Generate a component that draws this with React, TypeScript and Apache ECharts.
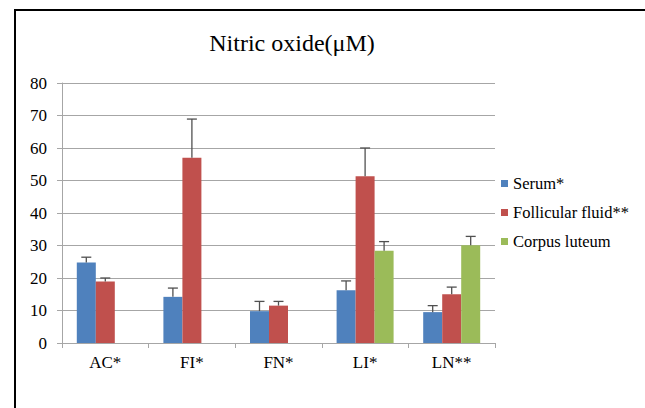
import React, { useEffect, useRef } from "react";
import * as echarts from "echarts";

const categories = ["AC*", "FI*", "FN*", "LI*", "LN**"];
const seriesNames = ["Serum*", "Follicular fluid**", "Corpus luteum"];
const serum = [24.8, 14.2, 9.8, 16.2, 9.5];
const follicularFluid = [18.9, 57.0, 11.5, 51.3, 15.0];
const corpusLuteum = [null, null, null, 28.4, 30.1];
// upper error (SD) for each bar
const serumErr = [1.6, 2.7, 3.0, 2.9, 2.0];
const follicularErr = [1.1, 11.9, 1.3, 8.7, 2.2];
const corpusErr = [null, null, null, 2.8, 2.7];
const yTicks = [0, 10, 20, 30, 40, 50, 60, 70, 80];

const colors = ["#4F81BD", "#C0504D", "#9BBB59"];
const FONT = "Liberation Serif";
const BAR_W = 19;

const values = [serum, follicularFluid, corpusLuteum];
const errors = [serumErr, follicularErr, corpusErr];

function errorSeries(idx: number) {
  const data = values[idx]
    .map((v, i) => (v == null || errors[idx][i] == null ? null : [i, v, v + (errors[idx][i] as number)]))
    .filter((d) => d !== null);
  return {
    type: "custom",
    name: seriesNames[idx] + " error",
    z: 5,
    silent: true,
    renderItem: (_params: any, api: any) => {
      const cat = api.value(0);
      const top = api.coord([cat, api.value(1)]);
      const hi = api.coord([cat, api.value(2)]);
      const x = top[0] + (idx - 1) * BAR_W;
      const style = { stroke: "#505050", lineWidth: 1.3 };
      return {
        type: "group",
        children: [
          { type: "line", shape: { x1: x, y1: top[1], x2: x, y2: hi[1] }, style },
          { type: "line", shape: { x1: x - 5, y1: hi[1], x2: x + 5, y2: hi[1] }, style },
        ],
      };
    },
    encode: { x: 0, y: [1, 2] },
    data,
  };
}

export default function App() {
  const ref = useRef<HTMLDivElement>(null);

  useEffect(() => {
    if (!ref.current) return;
    const chart = echarts.init(ref.current, null, { renderer: "svg" });
    chart.setOption({
      animation: false,
      backgroundColor: "#ffffff",
      color: colors,
      textStyle: { fontFamily: FONT },
      title: {
        text: "Nitric oxide(\u03bcM)",
        left: 287,
        top: 26,
        textAlign: "center",
        textStyle: { fontFamily: FONT, fontSize: 24, fontWeight: "normal", color: "#000" },
      },
      legend: {
        data: seriesNames,
        orient: "vertical",
        left: 496,
        top: 170,
        itemWidth: 7,
        itemHeight: 7,
        itemGap: 12,
        icon: "rect",
        textStyle: { fontFamily: FONT, fontSize: 16.5, color: "#000" },
      },
      grid: { left: 62, right: 150, top: 83, bottom: 65 },
      xAxis: {
        type: "category",
        data: categories,
        axisLine: { lineStyle: { color: "#a6a6a6", width: 1 } },
        axisTick: { show: true, length: 5, lineStyle: { color: "#a6a6a6" } },
        axisLabel: { fontFamily: FONT, fontSize: 17, color: "#000", margin: 11 },
      },
      yAxis: {
        type: "value",
        min: yTicks[0],
        max: yTicks[yTicks.length - 1],
        interval: 10,
        axisLine: { show: true, lineStyle: { color: "#a6a6a6", width: 1 } },
        axisTick: { show: true, length: 5, lineStyle: { color: "#a6a6a6" } },
        axisLabel: { fontFamily: FONT, fontSize: 17, color: "#000", margin: 15 },
        splitLine: { lineStyle: { color: "#a6a6a6", width: 1 } },
      },
      graphic: [
        { type: "line", shape: { x1: 14, y1: 10, x2: 645, y2: 10 }, style: { stroke: "#000", lineWidth: 2 } },
        { type: "line", shape: { x1: 15, y1: 9, x2: 15, y2: 408 }, style: { stroke: "#000", lineWidth: 2 } },
      ],
      series: [
        ...seriesNames.map((name, i) => ({
          type: "bar",
          name,
          data: values[i],
          barWidth: BAR_W,
          barGap: "0%",
          itemStyle: { color: colors[i] },
        })),
        errorSeries(0),
        errorSeries(1),
        errorSeries(2),
      ],
    });
    return () => chart.dispose();
  }, []);

  return (
    <div
      ref={ref}
      style={{ position: "fixed", left: 0, top: 0, width: 645, height: 408, background: "#fff" }}
    />
  );
}
